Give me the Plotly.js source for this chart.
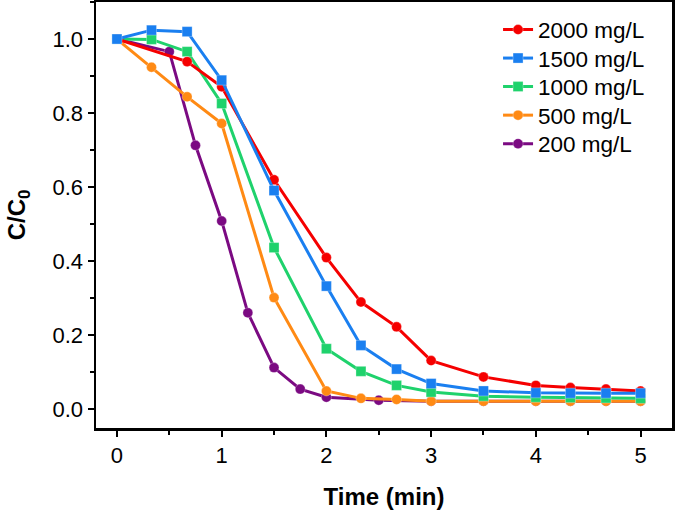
<!DOCTYPE html>
<html>
<head>
<meta charset="utf-8">
<script src="https://cdn.plot.ly/plotly-3.0.1.min.js"></script>
<style>html,body{margin:0;padding:0;background:#fff;}#chart{width:675px;height:513px;}</style>
</head>
<body>
<div id="chart"></div>
<script>
// Data
const seriesNames = ["2000 mg/L", "1500 mg/L", "1000 mg/L", "500 mg/L", "200 mg/L"];

const x2000 = [0, 0.67, 1, 1.5, 2, 2.33, 2.67, 3, 3.5, 4, 4.33, 4.67, 5];
const y2000 = [1.0, 0.939, 0.871, 0.62, 0.41, 0.29, 0.223, 0.132, 0.088, 0.065, 0.059, 0.055, 0.05];

const x1500 = [0, 0.33, 0.67, 1, 1.5, 2, 2.33, 2.67, 3, 3.5, 4, 4.33, 4.67, 5];
const y1500 = [1.0, 1.024, 1.02, 0.889, 0.591, 0.333, 0.173, 0.109, 0.07, 0.05, 0.045, 0.044, 0.044, 0.044];

const x1000 = [0, 0.33, 0.67, 1, 1.5, 2, 2.33, 2.67, 3, 3.5, 4, 4.33, 4.67, 5];
const y1000 = [1.0, 0.999, 0.966, 0.826, 0.437, 0.164, 0.103, 0.065, 0.047, 0.036, 0.033, 0.032, 0.031, 0.03];

const x500 = [0, 0.33, 0.67, 1, 1.5, 2, 2.33, 2.67, 3, 3.5, 4, 4.33, 4.67, 5];
const y500 = [1.0, 0.924, 0.844, 0.772, 0.302, 0.05, 0.03, 0.027, 0.022, 0.022, 0.022, 0.022, 0.022, 0.022];

const x200 = [0, 0.5, 0.75, 1, 1.25, 1.5, 1.75, 2, 2.5, 3, 3.5, 4, 4.33, 4.67, 5];
const y200 = [1.0, 0.966, 0.713, 0.509, 0.261, 0.113, 0.055, 0.033, 0.025, 0.022, 0.022, 0.022, 0.022, 0.022, 0.022];

const xTickVals = [0, 1, 2, 3, 4, 5];
const yTickVals = [0.0, 0.2, 0.4, 0.6, 0.8, 1.0];
const yTickText = ["0.0", "0.2", "0.4", "0.6", "0.8", "1.0"];

const FONT = "Liberation Sans, Arial, sans-serif";

function tr(x, y, name, color, symbol, legendId) {
  return {
    x: x, y: y, name: name, type: "scatter", mode: "lines+markers",
    legend: legendId,
    line: {color: color, width: 3},
    marker: {color: color, symbol: symbol, size: 10, line: {color: "rgba(255,255,255,0.6)", width: 0.5}}
  };
}

// draw order: lower series first so upper ones overlay similar to reference
const data = [
  tr(x200, y200, seriesNames[4], "#7b0a82", "circle", "legend5"),
  tr(x500, y500, seriesNames[3], "#ff8a14", "circle", "legend4"),
  tr(x1000, y1000, seriesNames[2], "#1fd26c", "square", "legend3"),
  tr(x2000, y2000, seriesNames[0], "#f50000", "circle", "legend"),
  tr(x1500, y1500, seriesNames[1], "#1a7ff0", "square", "legend2")
];

function leg(yTop) {
  return {
    x: 0.698, y: yTop, xanchor: "left", yanchor: "top",
    bgcolor: "rgba(0,0,0,0)", borderwidth: 0,
    font: {family: FONT, size: 22.5, color: "#000"}
  };
}

const layout = {
  width: 675, height: 513,
  margin: {l: 96, r: 3, t: 2, b: 85},
  paper_bgcolor: "#fff", plot_bgcolor: "#fff",
  font: {family: FONT, size: 22, color: "#000"},
  showlegend: true,
  legend: leg(0.985),
  legend2: leg(0.918),
  legend3: leg(0.851),
  legend4: leg(0.784),
  legend5: leg(0.717),
  xaxis: {
    range: [-0.2, 5.3],
    tickvals: xTickVals,
    ticks: "outside", ticklen: 6, tickwidth: 2, tickcolor: "#000",
    minor: {ticks: "outside", ticklen: 4, tickwidth: 2, tickcolor: "#000", dtick: 0.5, tick0: 0},
    showline: true, linewidth: 2.5, linecolor: "#000", mirror: true,
    showgrid: false, zeroline: false,
    tickfont: {family: FONT, size: 22, color: "#000"},
    title: {text: "<b>Time (min)</b>", font: {family: FONT, size: 24, color: "#000"}, standoff: 22}
  },
  yaxis: {
    range: [-0.05, 1.1],
    tickvals: yTickVals, ticktext: yTickText,
    ticks: "outside", ticklen: 6, tickwidth: 2, tickcolor: "#000",
    minor: {ticks: "outside", ticklen: 4, tickwidth: 2, tickcolor: "#000", dtick: 0.1, tick0: 0},
    showline: true, linewidth: 2.5, linecolor: "#000", mirror: true,
    showgrid: false, zeroline: false,
    tickfont: {family: FONT, size: 22, color: "#000"},
    title: {text: "<b>C/C<sub>0</sub></b>", font: {family: FONT, size: 24, color: "#000"}, standoff: 20}
  }
};

Plotly.newPlot("chart", data, layout, {displayModeBar: false, staticPlot: true});
</script>
</body>
</html>
